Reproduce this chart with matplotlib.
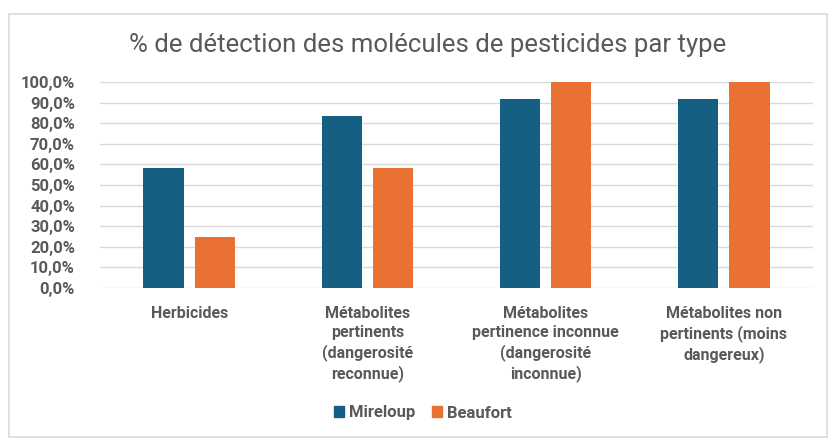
import matplotlib.pyplot as plt
from matplotlib.patches import Rectangle, Patch
import numpy as np

# data
categories = [
    "Herbicides",
    "Métabolites\npertinents\n(dangerosité\nreconnue)",
    "Métabolites\npertinence inconnue\n(dangerosité\ninconnue)",
    "Métabolites non\npertinents (moins\ndangereux)",
]
mireloup = [58.3, 83.3, 91.7, 91.7]
beaufort = [25.0, 58.3, 100.0, 100.0]
series_names = ["Mireloup", "Beaufort"]
yticks = [0, 10, 20, 30, 40, 50, 60, 70, 80, 90, 100]

BLUE = "#156082"
ORANGE = "#E97132"
GREY = "#595959"

plt.rcParams['font.family'] = ['Roboto', 'DejaVu Sans']

fig = plt.figure(figsize=(8.35, 4.46), dpi=100)
ax = fig.add_axes([100 / 835, 158 / 446, 713 / 835, 206 / 446])

x = np.arange(len(categories))
w = 0.225
off = 0.1435
ax.bar(x - off, mireloup, w, color=BLUE, zorder=3)
ax.bar(x + off, beaufort, w, color=ORANGE, zorder=3)

ax.set_xlim(-0.5, len(categories) - 0.5)
ax.set_ylim(0, 100)
ax.set_yticks(yticks)
ax.set_yticklabels([f"{v:.1f}%".replace(".", ",") for v in yticks],
                   fontsize=12, fontweight='bold', color=GREY)
ax.set_xticks(x)
ax.set_xticklabels(categories, fontsize=11.5, fontweight='bold', color=GREY,
                   linespacing=1.32, va='top')
ax.tick_params(axis='both', length=0)
ax.tick_params(axis='y', pad=18)
ax.tick_params(axis='x', pad=13)
ax.grid(axis='y', color="#d9d9d9", linewidth=1, zorder=0)
for s in ax.spines.values():
    s.set_visible(False)

fig.text(428 / 835, 1 - 45 / 446, "% de détection des molécules de pesticides par type",
         ha='center', va='center', fontsize=18.5, color=GREY)

handles = [Patch(color=BLUE), Patch(color=ORANGE)]
fig.legend(handles, series_names, loc='center', bbox_to_anchor=(423 / 835, 1 - 413 / 446),
           ncol=2, frameon=False, handlelength=0.6, handleheight=0.6, handletextpad=0.3,
           columnspacing=1.0, prop={'weight': 'bold', 'size': 12})
for t in fig.legends[0].get_texts():
    t.set_color(GREY)

# light frame round the chart
fig.patches.append(Rectangle((9 / 835, 1 - 437 / 446), 818 / 835, 423 / 446,
                             transform=fig.transFigure, fill=False,
                             edgecolor="#d9d9d9", linewidth=1.2))

fig.savefig("out.png", dpi=100)
